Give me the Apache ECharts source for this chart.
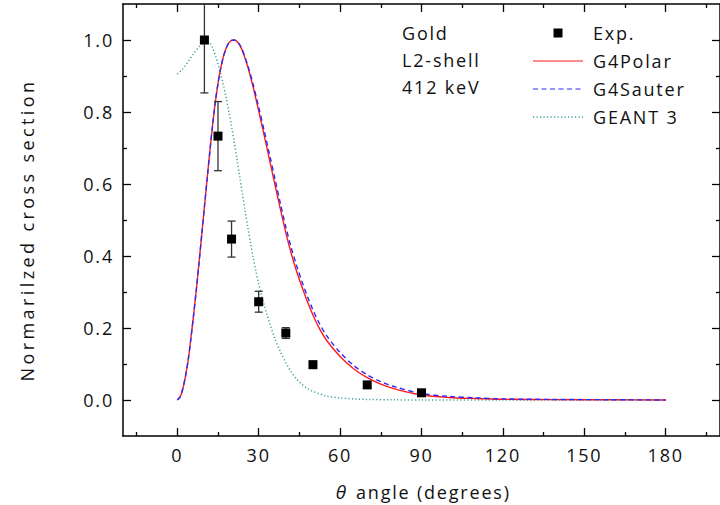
<!DOCTYPE html>
<html>
<head>
<meta charset="utf-8">
<script src="https://cdn.jsdelivr.net/npm/echarts@6/dist/echarts.min.js"></script>
<style>
  html, body { margin: 0; padding: 0; background: #fff; }
  #main { width: 720px; height: 505px; }
  #main svg text { letter-spacing: 1.8px; }
</style>
</head>
<body>
<div id="main"></div>
<script>
// ---- data ----
const expAngle = [10, 15, 20, 30, 40, 50, 70, 90];
const expValue = [1.0, 0.733, 0.447, 0.273, 0.186, 0.098, 0.042, 0.02];
const expError = [0.147, 0.096, 0.05, 0.029, 0.015, 0.01, 0.005, 0.003];

const polarAngle = [0, 1, 2, 3, 4, 5, 6, 7, 8, 9, 10, 11, 12, 13, 14, 15, 16, 17, 18, 19, 20, 21, 22, 23, 24, 26, 28, 30, 32, 34, 36, 38, 40, 42, 44, 46, 48, 50, 52, 55, 60, 65, 70, 75, 80, 90, 100, 110, 120, 140, 160, 180];
const polarValue = [0, 0.008, 0.03, 0.065, 0.11, 0.17, 0.235, 0.305, 0.38, 0.458, 0.536, 0.614, 0.69, 0.762, 0.826, 0.879, 0.921, 0.954, 0.977, 0.992, 0.999, 1.0, 0.996, 0.986, 0.970, 0.925, 0.868, 0.803, 0.736, 0.667, 0.598, 0.530, 0.465, 0.407, 0.357, 0.313, 0.272, 0.236, 0.204, 0.166, 0.121, 0.087, 0.062, 0.044, 0.031, 0.014, 0.007, 0.004, 0.002, 0.001, 0.0005, 0];

const sauterAngle = [0, 1, 2, 3, 4, 5, 6, 7, 8, 9, 10, 11, 12, 13, 14, 15, 16, 17, 18, 19, 20, 21, 22, 23, 24, 26, 28, 30, 32, 34, 36, 38, 40, 42, 44, 46, 48, 50, 52, 55, 60, 65, 70, 75, 80, 90, 100, 110, 120, 140, 160, 180];
const sauterValue = [0, 0.008, 0.03, 0.065, 0.11, 0.17, 0.235, 0.305, 0.38, 0.458, 0.536, 0.614, 0.69, 0.762, 0.826, 0.879, 0.921, 0.954, 0.977, 0.992, 0.999, 1.0, 0.996, 0.987, 0.972, 0.929, 0.876, 0.814, 0.749, 0.682, 0.614, 0.546, 0.481, 0.423, 0.373, 0.328, 0.287, 0.250, 0.218, 0.179, 0.132, 0.096, 0.070, 0.051, 0.037, 0.018, 0.010, 0.006, 0.003, 0.0015, 0.0008, 0];

const geantAngle = [0, 2, 4, 6, 8, 10, 11, 12, 13, 14, 15, 16, 17, 18, 19, 20, 21, 22, 23, 24, 25, 26, 27, 28, 29, 30, 31, 32, 33, 34, 36, 38, 40, 42, 44, 46, 48, 50, 55, 60, 65, 70, 80, 90, 120, 150, 180];
const geantValue = [0.905, 0.92, 0.94, 0.962, 0.981, 0.994, 0.997, 0.992, 0.978, 0.958, 0.934, 0.906, 0.875, 0.840, 0.802, 0.760, 0.716, 0.669, 0.621, 0.573, 0.526, 0.480, 0.436, 0.395, 0.357, 0.323, 0.292, 0.264, 0.238, 0.214, 0.170, 0.134, 0.104, 0.078, 0.058, 0.043, 0.032, 0.024, 0.011, 0.006, 0.003, 0.0015, 0.0005, 0, 0, 0, 0];

const xMajorTicks = [0, 30, 60, 90, 120, 150, 180];
const xMinorTicks = [-15, 15, 45, 75, 105, 135, 165, 195];
const yMajorTicks = [0, 0.2, 0.4, 0.6, 0.8, 1.0];
const yMinorTicks = [0.1, 0.3, 0.5, 0.7, 0.9];

const seriesNames = ['Exp.', 'G4Polar', 'G4Sauter', 'GEANT 3'];
const noteLines = ['Gold', 'L2-shell', '412 keV'];
const xAxisSymbol = 'θ';
const xAxisTitle = 'angle (degrees)';
const yAxisTitle = 'Normarilzed cross section';

// ---- chart ----
const FONT = 'Open Sans';
const TXT = '#111';
const FS = 18;
const pair = (xs, ys) => xs.map((x, i) => [x, ys[i]]);

const COLORS = { exp: '#000', polar: '#ff1a1a', sauter: '#2a2aff', geant: '#3f9f9f' };

const chart = echarts.init(document.getElementById('main'), null, { renderer: 'svg' });

const gridRect = { left: 123, top: 4, width: 603, height: 432 };
const xRange = { min: -20, max: 200 };
const yRange = { min: -0.1, max: 1.1 };

function xAx(gridIndex, position, ticks, len, showLabel, showLine, extra) {
  return Object.assign({
    type: 'value', gridIndex, position, min: xRange.min, max: xRange.max,
    splitLine: { show: false },
    axisLine: { show: showLine, onZero: false, lineStyle: { color: '#000', width: 1.5 } },
    axisTick: { show: true, inside: true, length: len, customValues: ticks, lineStyle: { color: '#000', width: 1.3 } },
    axisLabel: { show: showLabel, customValues: ticks, margin: 10, color: TXT, fontFamily: FONT, fontSize: FS }
  }, extra || {});
}
function yAx(gridIndex, position, ticks, len, showLabel, showLine, extra) {
  return Object.assign({
    type: 'value', gridIndex, position, min: yRange.min, max: yRange.max,
    splitLine: { show: false },
    axisLine: { show: showLine, onZero: false, lineStyle: { color: '#000', width: 1.5 } },
    axisTick: { show: true, inside: true, length: len, customValues: ticks, lineStyle: { color: '#000', width: 1.3 } },
    axisLabel: { show: showLabel, customValues: ticks, margin: 9, color: TXT, fontFamily: FONT, fontSize: FS,
      formatter: v => v.toFixed(1) }
  }, extra || {});
}

// legend + notes drawn as graphic elements (layout positions, not data)
const legX0 = 533, legX1 = 583, legTextX = 593, legY0 = 33, legStep = 28;
const graphics = [];
graphics.push({ type: 'rect', shape: { x: (legX0 + legX1) / 2 - 4.5, y: legY0 - 4.5, width: 9, height: 9 }, style: { fill: COLORS.exp } });
graphics.push({ type: 'line', shape: { x1: legX0, y1: legY0 + legStep, x2: legX1, y2: legY0 + legStep }, style: { stroke: COLORS.polar, lineWidth: 1.2 } });
graphics.push({ type: 'line', shape: { x1: legX0, y1: legY0 + 2 * legStep, x2: legX1, y2: legY0 + 2 * legStep }, style: { stroke: COLORS.sauter, lineWidth: 1.2, lineDash: [5, 3.5] } });
graphics.push({ type: 'line', shape: { x1: legX0, y1: legY0 + 3 * legStep, x2: legX1, y2: legY0 + 3 * legStep }, style: { stroke: COLORS.geant, lineWidth: 1.3, lineDash: [1.2, 2.3] } });
seriesNames.forEach((n, i) => {
  graphics.push({ type: 'text', x: legTextX, y: legY0 + i * legStep,
    style: { text: n, fill: TXT, font: FS + 'px "Open Sans"', verticalAlign: 'middle', align: 'left' } });
});
noteLines.forEach((n, i) => {
  graphics.push({ type: 'text', x: 402, y: legY0 + i * 27,
    style: { text: n, fill: TXT, font: FS + 'px "Open Sans"', verticalAlign: 'middle', align: 'left' } });
});
// axis titles
graphics.push({ type: 'text', x: 27, y: 230, rotation: Math.PI / 2,
  style: { text: yAxisTitle, fill: TXT, font: FS + 'px "Open Sans"', verticalAlign: 'middle', align: 'center' } });
graphics.push({ type: 'text', x: 348, y: 492,
  style: { text: xAxisSymbol, fill: TXT, font: 'italic 19px "Open Sans"', verticalAlign: 'middle', align: 'right' } });
graphics.push({ type: 'text', x: 356, y: 492,
  style: { text: xAxisTitle, fill: TXT, font: FS + 'px "Open Sans"', verticalAlign: 'middle', align: 'left' } });

chart.setOption({
  animation: false,
  backgroundColor: '#fff',
  grid: [
    Object.assign({ containLabel: false }, gridRect),
    Object.assign({ containLabel: false }, gridRect)
  ],
  xAxis: [
    xAx(0, 'bottom', xMajorTicks, 8, true, true),
    xAx(0, 'top', xMajorTicks, 8, false, true),
    xAx(1, 'bottom', xMinorTicks, 4, false, false),
    xAx(1, 'top', xMinorTicks, 4, false, false)
  ],
  yAxis: [
    yAx(0, 'left', yMajorTicks, 8, true, true),
    yAx(0, 'right', yMajorTicks, 8, false, true),
    yAx(1, 'left', yMinorTicks, 4, false, false),
    yAx(1, 'right', yMinorTicks, 4, false, false)
  ],
  graphic: graphics,
  series: [
    {
      name: seriesNames[3], type: 'line', xAxisIndex: 0, yAxisIndex: 0,
      data: pair(geantAngle, geantValue), symbol: 'none', smooth: 0.3,
      lineStyle: { color: COLORS.geant, width: 1.5, type: [1.2, 2.3] }, z: 2
    },
    {
      name: seriesNames[1], type: 'line', xAxisIndex: 0, yAxisIndex: 0,
      data: pair(polarAngle, polarValue), symbol: 'none', smooth: 0.3,
      lineStyle: { color: COLORS.polar, width: 1.4 }, z: 3
    },
    {
      name: seriesNames[2], type: 'line', xAxisIndex: 0, yAxisIndex: 0,
      data: pair(sauterAngle, sauterValue), symbol: 'none', smooth: 0.3,
      lineStyle: { color: COLORS.sauter, width: 1.4, type: [5, 3.5] }, z: 4
    },
    {
      name: 'errors', type: 'custom', xAxisIndex: 0, yAxisIndex: 0, clip: true, z: 5,
      data: expAngle.map((x, i) => [x, expValue[i] - expError[i], expValue[i] + expError[i]]),
      renderItem: function (params, api) {
        const x = api.value(0);
        const lo = api.coord([x, api.value(1)]);
        const hi = api.coord([x, api.value(2)]);
        const w = 4;
        const st = { stroke: '#333', lineWidth: 1.3, fill: 'none' };
        return {
          type: 'group',
          children: [
            { type: 'line', shape: { x1: lo[0], y1: lo[1], x2: hi[0], y2: hi[1] }, style: st },
            { type: 'line', shape: { x1: lo[0] - w, y1: lo[1], x2: lo[0] + w, y2: lo[1] }, style: st },
            { type: 'line', shape: { x1: hi[0] - w, y1: hi[1], x2: hi[0] + w, y2: hi[1] }, style: st }
          ]
        };
      },
      silent: true
    },
    {
      name: seriesNames[0], type: 'scatter', xAxisIndex: 0, yAxisIndex: 0,
      data: pair(expAngle, expValue), symbol: 'rect', symbolSize: 9,
      itemStyle: { color: COLORS.exp, opacity: 1 }, z: 6
    }
  ]
});

function widenTitle() {
  document.querySelectorAll('#main svg text').forEach(t => {
    if (t.textContent === yAxisTitle) t.style.letterSpacing = '3.4px';
  });
}
widenTitle();
chart.on('finished', widenTitle);
requestAnimationFrame(widenTitle);
</script>
</body>
</html>
